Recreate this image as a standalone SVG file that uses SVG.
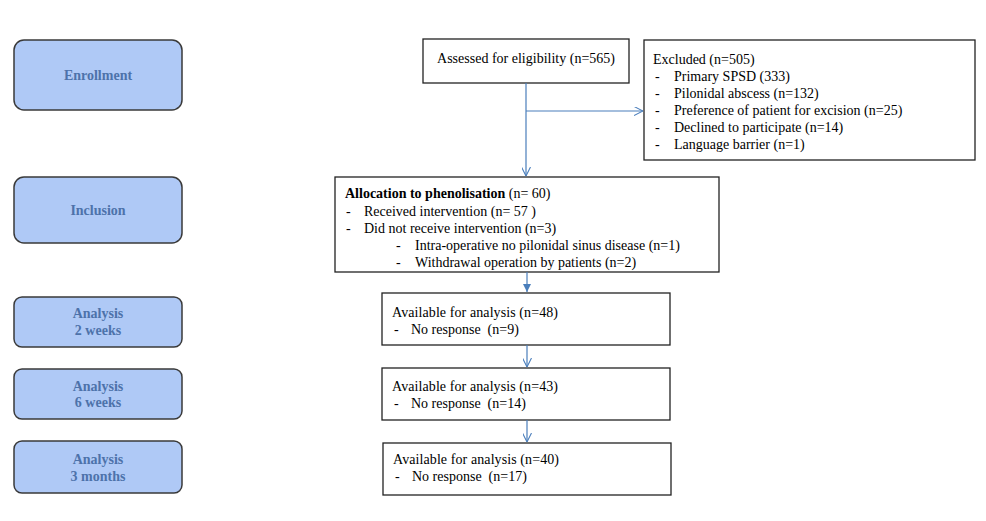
<svg xmlns="http://www.w3.org/2000/svg" width="986" height="521" viewBox="0 0 986 521">
<style>
.stage{fill:#afc9f6;stroke:#3a3a3a;stroke-width:1.5}
.stxt{font-family:"Liberation Serif","Times New Roman",serif;font-weight:bold;font-size:14px;fill:#4d72aa;text-anchor:middle}
.box{fill:#fff;stroke:#222;stroke-width:1.3}
.t{font-family:"Liberation Serif","Times New Roman",serif;font-size:14px;fill:#000}
.t2{font-family:"Liberation Serif","Times New Roman",serif;font-size:14px;fill:#000}
.b{font-weight:bold}
.con{fill:none;stroke:#4a7ebb;stroke-width:1.2}
</style>
<defs>
<marker id="open" viewBox="0 0 10 10" refX="10" refY="5" markerWidth="9" markerHeight="9" markerUnits="userSpaceOnUse" orient="auto">
<path d="M0,0 L10,5 L0,10" fill="none" stroke="#4a7ebb" stroke-width="1.2"/>
</marker>
<marker id="solid" viewBox="0 0 10 10" refX="10" refY="5" markerWidth="8" markerHeight="8" markerUnits="userSpaceOnUse" orient="auto">
<path d="M0,0 L10,5 L0,10 Z" fill="#4a7ebb"/>
</marker>
</defs>
<rect width="986" height="521" fill="#fff"/>

<g id="stage-enrollment">
<rect class="stage" x="14" y="40" width="168" height="70" rx="10"/>
<text class="stxt" x="98" y="80">Enrollment</text>
</g>
<g id="stage-inclusion">
<rect class="stage" x="14" y="177" width="168" height="66" rx="10"/>
<text class="stxt" x="98" y="215">Inclusion</text>
</g>
<g id="stage-2weeks">
<rect class="stage" x="14" y="297" width="168" height="50" rx="8"/>
<text class="stxt" x="98" y="318">Analysis</text>
<text class="stxt" x="98" y="335">2 weeks</text>
</g>
<g id="stage-6weeks">
<rect class="stage" x="14" y="369" width="168" height="50" rx="8"/>
<text class="stxt" x="98" y="391">Analysis</text>
<text class="stxt" x="98" y="407">6 weeks</text>
</g>
<g id="stage-3months">
<rect class="stage" x="14" y="441" width="168" height="52" rx="8"/>
<text class="stxt" x="98" y="464">Analysis</text>
<text class="stxt" x="98" y="481">3 months</text>
</g>

<g id="assessed">
<rect class="box" x="423" y="39" width="206" height="44"/>
<text class="t" x="437" y="63" textLength="178">Assessed for eligibility (n=565)</text>
</g>

<g id="excluded">
<rect class="box" x="644" y="40" width="331" height="120"/>
<text class="t" x="653" y="64">Excluded (n=505)</text>
<text class="t" x="655" y="81">-</text><text class="t" x="674" y="81">Primary SPSD (333)</text>
<text class="t" x="655" y="98">-</text><text class="t" x="674" y="98">Pilonidal abscess (n=132)</text>
<text class="t" x="655" y="115">-</text><text class="t" x="674" y="115">Preference of patient for excision (n=25)</text>
<text class="t" x="655" y="132">-</text><text class="t" x="674" y="132">Declined to participate (n=14)</text>
<text class="t" x="655" y="149">-</text><text class="t" x="674" y="149">Language barrier (n=1)</text>
</g>

<g id="allocation">
<rect class="box" x="335" y="177" width="384" height="95"/>
<text class="t" x="345" y="198"><tspan class="b">Allocation to phenolisation</tspan> (n= 60)</text>
<text class="t" x="346" y="216">-</text><text class="t" x="364" y="216">Received intervention (n= 57 )</text>
<text class="t" x="346" y="233">-</text><text class="t" x="364" y="233">Did not receive intervention (n=3)</text>
<text class="t" x="396" y="250">-</text><text class="t" x="415" y="250">Intra-operative no pilonidal sinus disease (n=1)</text>
<text class="t" x="396" y="267">-</text><text class="t" x="415" y="267">Withdrawal operation by patients (n=2)</text>
</g>

<g id="analysis-2weeks">
<rect class="box" x="382" y="293" width="288" height="52"/>
<text class="t2" x="392" y="317" textLength="166">Available for analysis (n=48)</text>
<text class="t2" x="394" y="334">-</text><text class="t2" x="411" y="334" xml:space="preserve">No response  (n=9)</text>
</g>
<g id="analysis-6weeks">
<rect class="box" x="382" y="368" width="288" height="52"/>
<text class="t2" x="392" y="391" textLength="166">Available for analysis (n=43)</text>
<text class="t2" x="394" y="408">-</text><text class="t2" x="411" y="408" xml:space="preserve">No response  (n=14)</text>
</g>
<g id="analysis-3months">
<rect class="box" x="383" y="443" width="288" height="52"/>
<text class="t2" x="393" y="464" textLength="166">Available for analysis (n=40)</text>
<text class="t2" x="395" y="481">-</text><text class="t2" x="412" y="481" xml:space="preserve">No response  (n=17)</text>
</g>

<g id="connectors">
<path class="con" d="M526,83 V176" marker-end="url(#open)"/>
<path class="con" d="M526,111 H643" marker-end="url(#open)"/>
<path class="con" d="M527,272 V292" marker-end="url(#solid)"/>
<path class="con" d="M527,345 V367" marker-end="url(#open)"/>
<path class="con" d="M527,420 V442" marker-end="url(#open)"/>
</g>
</svg>
